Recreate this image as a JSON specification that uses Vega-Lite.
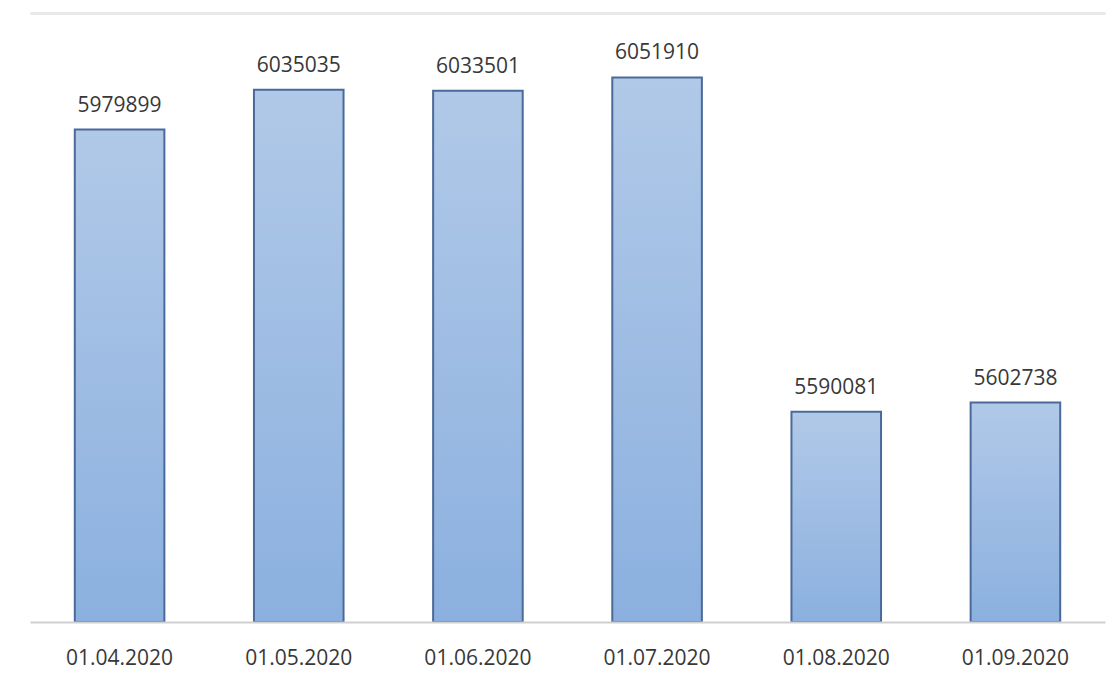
{
  "$schema": "https://vega.github.io/schema/vega-lite/v6.json",
  "width": 1075,
  "height": 609,
  "autosize": "none",
  "padding": {"left": 30, "top": 13, "right": 14, "bottom": 52},
  "background": "white",
  "config": {"view": {"stroke": null}},
  "data": {
    "values": [
      {"date": "01.04.2020", "value": 5979899},
      {"date": "01.05.2020", "value": 6035035},
      {"date": "01.06.2020", "value": 6033501},
      {"date": "01.07.2020", "value": 6051910},
      {"date": "01.08.2020", "value": 5590081},
      {"date": "01.09.2020", "value": 5602738}
    ]
  },
  "encoding": {
    "x": {
      "field": "date",
      "type": "nominal",
      "sort": null,
      "scale": {"paddingInner": 0.5, "paddingOuter": 0.25},
      "axis": {
        "title": null,
        "labelAngle": 0,
        "labelFont": "Open Sans",
        "labelFontSize": 21,
        "labelColor": "#383838",
        "labelPadding": 25,
        "ticks": false,
        "domainColor": "#d0d0d0",
        "domainWidth": 2,
        "grid": false,
        "zindex": 1
      }
    }
  },
  "layer": [
    {
      "mark": {
        "type": "bar",
        "stroke": "#4a6a99",
        "strokeWidth": 2,
        "fill": {
          "gradient": "linear",
          "x1": 0, "y1": 0, "x2": 0, "y2": 1,
          "stops": [
            {"offset": 0, "color": "#b1c9e8"},
            {"offset": 1, "color": "#8bb0df"}
          ]
        }
      },
      "encoding": {
        "y": {
          "field": "value",
          "type": "quantitative",
          "scale": {"domain": [5299500, 6141000], "zero": false, "nice": false},
          "axis": {
            "title": null,
            "labels": false,
            "ticks": false,
            "domain": false,
            "values": [6141000],
            "grid": true,
            "gridColor": "#e8e8e8",
            "gridWidth": 3
          }
        },
        "y2": {"datum": 5299500}
      }
    },
    {
      "mark": {
        "type": "text",
        "baseline": "alphabetic",
        "dy": -18,
        "font": "Open Sans",
        "fontSize": 21,
        "color": "#383838"
      },
      "encoding": {
        "y": {"field": "value", "type": "quantitative"},
        "text": {"field": "value", "type": "quantitative", "format": "d"}
      }
    }
  ]
}
